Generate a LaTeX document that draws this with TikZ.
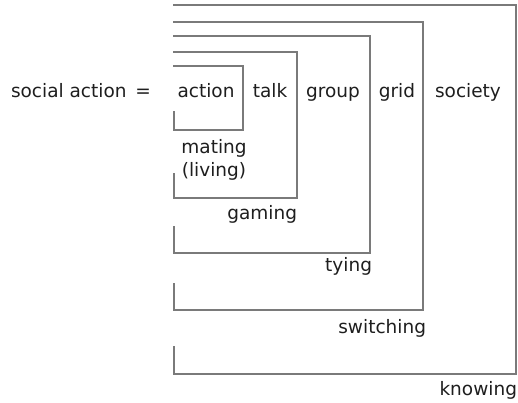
\documentclass[tikz,border=0pt]{standalone}
\usepackage{fontspec}
\setmainfont{DejaVu Sans}
\definecolor{framegray}{RGB}{122,122,122}
\definecolor{inkgray}{RGB}{30,30,30}
\begin{document}
\begin{tikzpicture}[x=1pt,y=-1pt,
  frame/.style={draw=framegray,line width=2.9pt,line cap=butt,line join=miter},
  lbl/.style={inner sep=0pt,outer sep=0pt,text=inkgray,font=\fontsize{18.5}{20}\selectfont}]
\useasboundingbox (0,0) rectangle (518,402);

% nested frames: top edge, right edge, bottom edge, plus a short left tick
\draw[frame] (173,66) -- (243,66) -- (243,130) -- (174,130) -- (174,111);
\draw[frame] (173,52) -- (297,52) -- (297,198) -- (174,198) -- (174,173);
\draw[frame] (173,36) -- (370,36) -- (370,253) -- (174,253) -- (174,226);
\draw[frame] (173,22) -- (423,22) -- (423,310) -- (174,310) -- (174,283);
\draw[frame] (173,5)  -- (516,5)  -- (516,374) -- (174,374) -- (174,346);

% top row
\node[lbl,anchor=base west] (soc) at (11,97) {social action};
\node[lbl,anchor=base] (eq) at (143,97) {=};
\node[lbl,anchor=base] (act) at (206,97) {action};
\node[lbl,anchor=base] (talk) at (270,97) {talk};
\node[lbl,anchor=base] (grp) at (333,97) {group};
\node[lbl,anchor=base] (grid) at (397,97) {grid};
\node[lbl,anchor=base] (soci) at (468,97) {society};

% labels under the frames
\node[lbl,anchor=base] (mat) at (214,153) {mating};
\node[lbl,anchor=base] (liv) at (214,176) {(living)};
\node[lbl,anchor=base east] (gam) at (297,219) {gaming};
\node[lbl,anchor=base east] (tyi) at (372,271) {tying};
\node[lbl,anchor=base east] (swi) at (426,333) {switching};
\node[lbl,anchor=base east] (kno) at (517,395) {knowing};
\end{tikzpicture}
\end{document}
